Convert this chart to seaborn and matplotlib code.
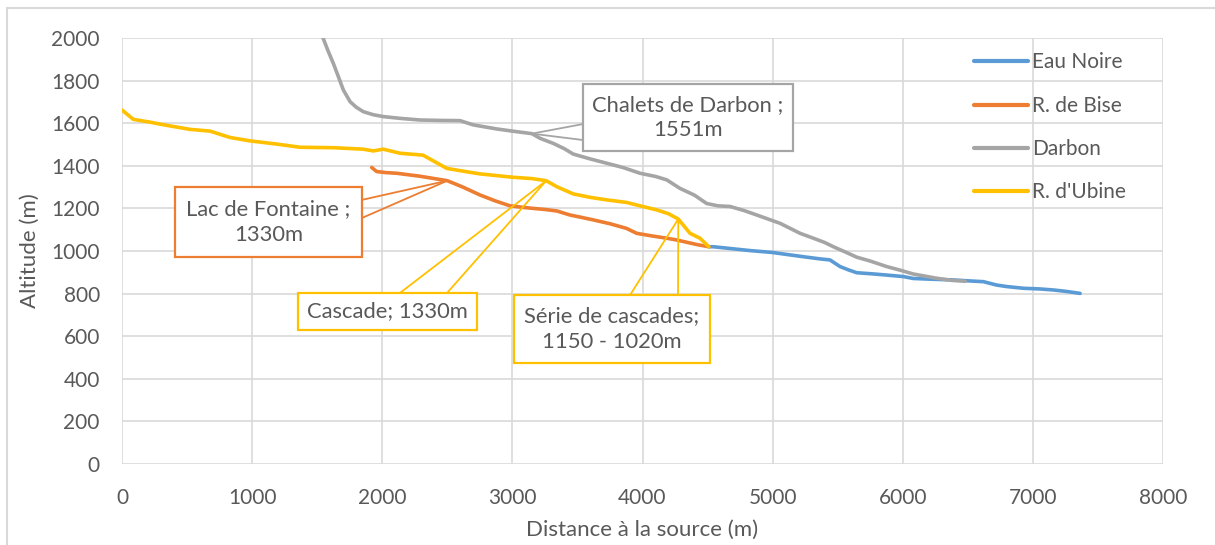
import numpy as np
import pandas as pd
import matplotlib
matplotlib.use("Agg")
import matplotlib.pyplot as plt
from matplotlib.patches import Rectangle
import seaborn as sns

# Longitudinal profiles: distance from the source (m) and altitude (m)
eau_noire_x = [4510, 4545, 4700, 4826, 5000, 5082, 5250, 5364, 5441, 5518, 5580, 5646,
               5760, 5876, 6004, 6081, 6200, 6389, 6500, 6620, 6722, 6800, 6927, 7050,
               7158, 7260, 7363]
eau_noire_y = [1020, 1020, 1010, 1002, 993, 986, 972, 963, 958, 927, 912, 898,
               893, 887, 880, 871, 868, 864, 860, 856, 840, 833, 825, 822,
               817, 810, 801]

bise_x = [1919, 1957, 2030, 2111, 2200, 2290, 2400, 2500, 2620, 2751, 2870, 2982,
          3080, 3161, 3250, 3341, 3443, 3530, 3622, 3750, 3878, 3955, 4060, 4186,
          4260, 4340, 4420, 4510]
bise_y = [1392, 1373, 1368, 1365, 1358, 1351, 1340, 1330, 1300, 1263, 1235, 1212,
          1205, 1200, 1195, 1188, 1169, 1158, 1146, 1128, 1106, 1083, 1072, 1060,
          1052, 1041, 1030, 1020]

darbon_x = [1545, 1580, 1624, 1665, 1701, 1753, 1800, 1855, 1930, 2008, 2150, 2290,
            2450, 2598, 2700, 2880, 3010, 3150, 3213, 3315, 3400, 3468, 3600, 3725,
            3850, 3981, 4100, 4186, 4288, 4400, 4493, 4580, 4673, 4780, 4878, 5057,
            5211, 5313, 5400, 5467, 5560, 5646, 5749, 5876, 5980, 6081, 6261, 6380,
            6480]
darbon_y = [2000, 1945, 1881, 1815, 1756, 1701, 1675, 1654, 1640, 1631, 1622, 1615,
            1613, 1612, 1592, 1573, 1562, 1551, 1529, 1505, 1480, 1455, 1432, 1412,
            1392, 1365, 1350, 1334, 1294, 1262, 1223, 1212, 1209, 1190, 1169, 1130,
            1083, 1060, 1040, 1020, 995, 971, 953, 927, 910, 892, 872, 862,
            858]

ubine_x = [0, 87, 215, 343, 523, 676, 830, 984, 1189, 1368, 1624, 1854, 1931, 2008,
           2137, 2313, 2390, 2495, 2620, 2751, 3007, 3150, 3260, 3341, 3468, 3597,
           3725, 3878, 3981, 4109, 4200, 4275, 4365, 4442, 4510]
ubine_y = [1662, 1618, 1605, 1590, 1571, 1563, 1533, 1517, 1502, 1487, 1485, 1478,
           1470, 1478, 1459, 1450, 1424, 1388, 1375, 1362, 1346, 1340, 1330, 1302,
           1268, 1252, 1240, 1228, 1212, 1193, 1175, 1150, 1083, 1060, 1020]

series_names = ["Eau Noire", "R. de Bise", "Darbon", "R. d'Ubine"]
series_colors = ["#5B9BD5", "#ED7D31", "#A5A5A5", "#FFC000"]

x_ticks = [0, 1000, 2000, 3000, 4000, 5000, 6000, 7000, 8000]
y_ticks = [0, 200, 400, 600, 800, 1000, 1200, 1400, 1600, 1800, 2000]

frames = []
for name, xs, ys in zip(series_names,
                        [eau_noire_x, bise_x, darbon_x, ubine_x],
                        [eau_noire_y, bise_y, darbon_y, ubine_y]):
    frames.append(pd.DataFrame({"dist": xs, "alt": ys, "cours": name}))
df = pd.concat(frames, ignore_index=True)

sns.set_theme(style="white")
plt.rcParams["font.family"] = ["Lato", "DejaVu Sans"]

TXT = "#595959"
GRID = "#D9D9D9"
FS = 15

fig = plt.figure(figsize=(12.15, 5.45), dpi=100)
ax = fig.add_axes([122 / 1215, 1 - 464 / 545, 1041 / 1215, 426 / 545])

sns.lineplot(data=df, x="dist", y="alt", hue="cours", hue_order=series_names,
             palette=dict(zip(series_names, series_colors)), sort=False,
             estimator=None, linewidth=2.6, ax=ax, zorder=3)

ax.set_xlim(0, 8000)
ax.set_ylim(0, 2000)
ax.set_xticks(x_ticks)
ax.set_yticks(y_ticks)
ax.grid(True, color=GRID, linewidth=1.2)
ax.set_axisbelow(True)
for s in ax.spines.values():
    s.set_visible(False)
ax.tick_params(axis="both", length=0, labelsize=FS, labelcolor=TXT)
ax.tick_params(axis="x", pad=17)
ax.tick_params(axis="y", pad=16)
ax.set_xlabel("Distance à la source (m)", fontsize=FS + 1, color=TXT, labelpad=9)
ax.set_ylabel("Altitude (m)", fontsize=FS + 1, color=TXT, labelpad=8)

leg = ax.legend(loc="upper left", bbox_to_anchor=(0.818, 0.966), frameon=False,
                fontsize=FS, handlelength=2.6, handletextpad=0.2,
                labelspacing=1.12, borderpad=0, borderaxespad=0)
for t in leg.get_texts():
    t.set_color(TXT)
for h in leg.get_lines():
    h.set_linewidth(3)


def callout(box, anchor, base_pts, color, text):
    (x0, y0, x1, y1) = box
    for bx, by in base_pts:
        ax.plot([bx, anchor[0]], [by, anchor[1]], color=color, lw=1.3,
                zorder=5, solid_capstyle="butt")
    ax.add_patch(Rectangle((x0, y0), x1 - x0, y1 - y0, facecolor="white",
                           edgecolor=color, lw=1.6, zorder=6))
    ax.text((x0 + x1) / 2, (y0 + y1) / 2, text, ha="center", va="center",
            fontsize=FS + 0.8, color=TXT, zorder=7, linespacing=1.35)


def point(xs, ys, value):
    i = ys.index(value)
    return xs[i], ys[i]


# Chalets de Darbon
callout((3543, 1470, 5157, 1784), point(darbon_x, darbon_y, 1551),
        [(3543, 1596), (3543, 1521)], "#A5A5A5", "Chalets de Darbon ;\n1551m")
# Lac de Fontaine
callout((407, 972, 1844, 1300), point(bise_x, bise_y, 1330),
        [(1844, 1240), (1844, 1155)], "#ED7D31", "Lac de Fontaine ;\n1330m")
# Cascade
callout((1352, 629, 2728, 803), point(ubine_x, ubine_y, 1330),
        [(2136, 803), (2498, 803)], "#FFC000", "Cascade; 1330m")
# Série de cascades
callout((3013, 474, 4519, 793), point(ubine_x, ubine_y, 1150),
        [(3904, 793), (4273, 793)], "#FFC000", "Série de cascades;\n1150 - 1020m")

# Light outer frame of the chart area
fig.add_artist(Rectangle((6.5 / 1215, -0.05), 1.2, 1 - 7.5 / 545 + 0.05,
                         transform=fig.transFigure, fill=False,
                         edgecolor=GRID, lw=1.5))

fig.savefig("out.png", dpi=100)
